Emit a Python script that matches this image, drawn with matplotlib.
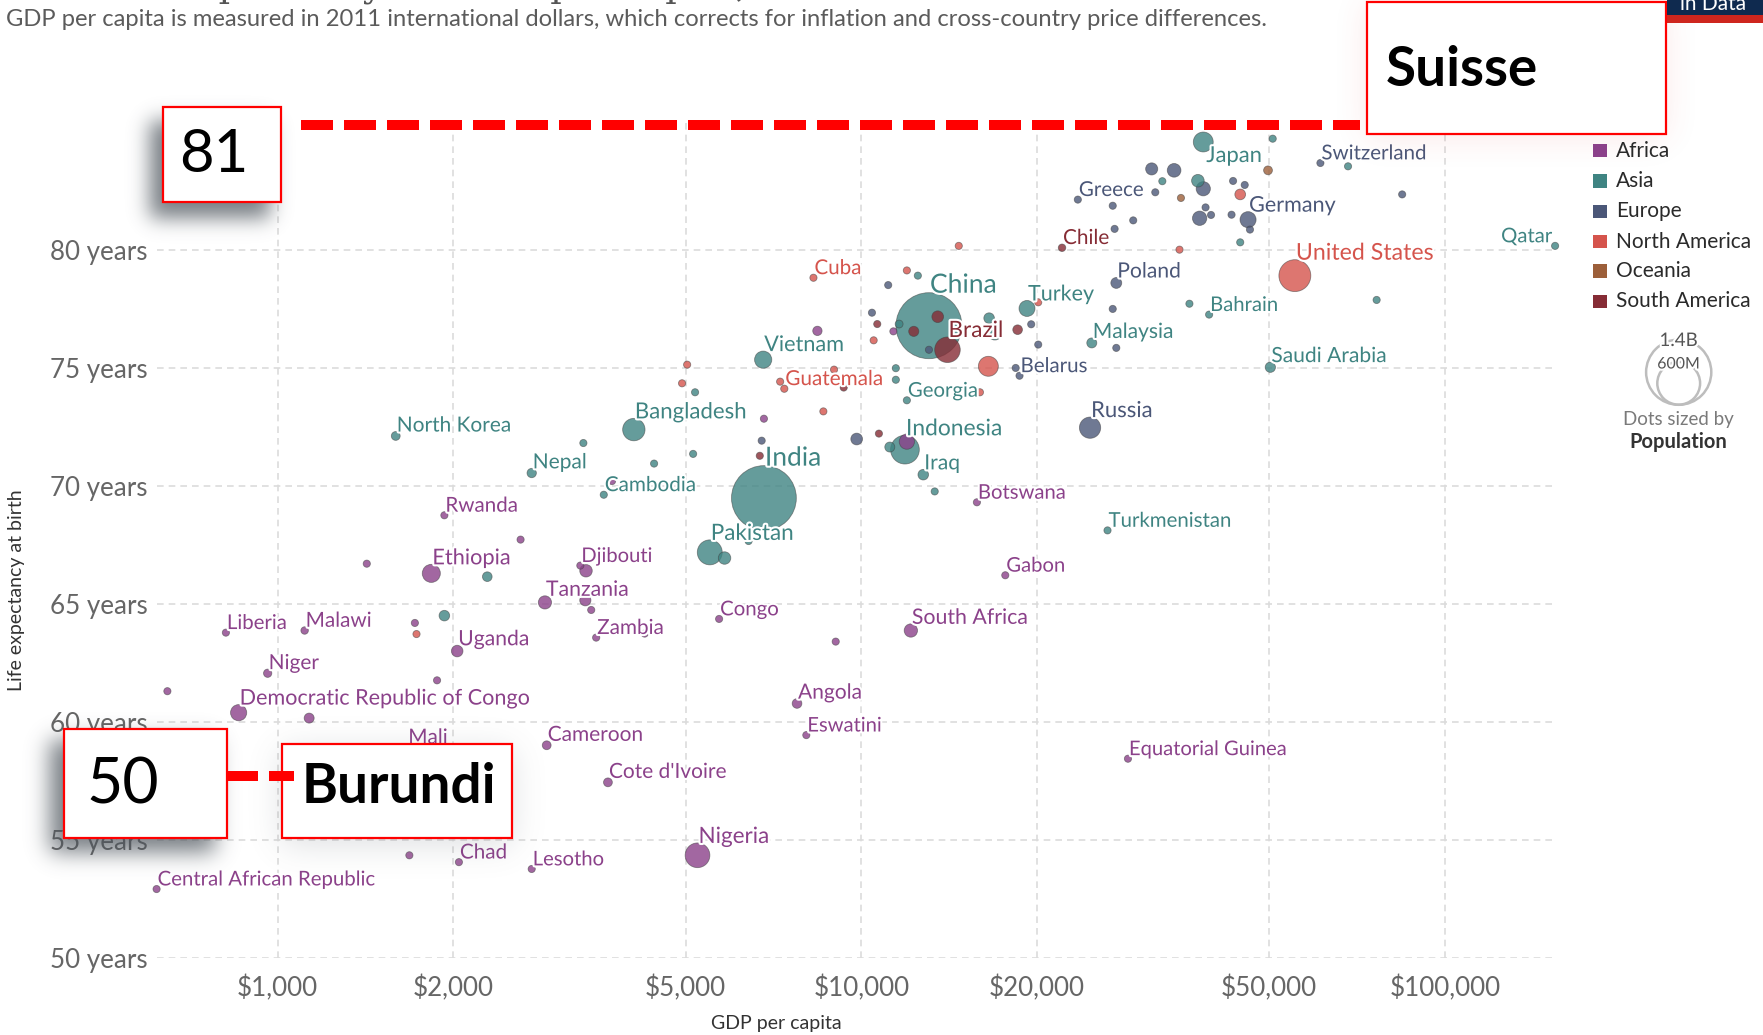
import math
import numpy as np
import matplotlib
matplotlib.use('Agg')
import matplotlib.pyplot as plt
from matplotlib.patches import Rectangle, Circle
from matplotlib.ticker import NullLocator
import matplotlib.patheffects as pe

plt.rcParams['font.family'] = ['Lato', 'DejaVu Sans']

W, H = 1763, 1035

# ---- data: GDP per capita (2011 int-$), life expectancy (years), population (millions)
af_name = ['Rwanda', '', '', 'Ethiopia', 'Djibouti', '', 'Tanzania', '', '', 'Zambia',
           '', 'Congo', '', 'Uganda', '', 'Liberia', 'Malawi', 'Niger',
           'Democratic Republic of Congo', '', '', 'Mali', 'Cameroon', "Cote d'Ivoire",
           'Chad', '', 'Lesotho', 'Central African Republic', 'Nigeria', 'South Africa',
           '', 'Angola', 'Eswatini', 'Gabon', 'Botswana', 'Equatorial Guinea',
           '', '', '', '', '']
af_gdp = [1930, 2607, 1421, 1833, 3300, 3375, 2870, 3366, 3445, 3513,
          4254, 5706, 1718, 2030, 1875, 815, 1112, 961,
          857, 647, 1132, 1667, 2890, 3680,
          2044, 1681, 2724, 620, 5240, 12160,
          9040, 7760, 8050, 17650, 15780, 28640,
          8410, 11350, 6810, 11970, 3740]
af_life = [68.75, 67.72, 66.7, 66.29, 66.62, 66.4, 65.06, 65.15, 64.74, 63.57,
           63.74, 64.36, 64.19, 63.0, 61.76, 63.78, 63.87, 62.06,
           60.39, 61.3, 60.16, 58.92, 59.01, 57.44,
           54.06, 54.35, 53.77, 52.92, 54.35, 63.87,
           63.4, 60.78, 59.44, 66.21, 69.3, 58.44,
           76.56, 76.54, 72.84, 71.87, 70.2]
af_pop = [12, 2, 16, 105, 1, 50, 56, 40, 5, 17,
          3, 5, 8, 43, 8, 5, 18, 22,
          84, 5, 32, 19, 25, 25,
          15, 8, 2, 5, 196, 57,
          3, 30, 1, 2, 2, 1,
          28, 11, 5, 75, 1]

as_name = ['North Korea', 'Nepal', 'Bangladesh', 'Cambodia', 'India', 'Pakistan', '', '',
           'Vietnam', '', '', '', '', 'China', 'Indonesia', '', 'Iraq', '', 'Georgia',
           '', '', '', '', '', '', 'Turkey', 'Malaysia', 'Turkmenistan', 'Bahrain', '',
           'Saudi Arabia', 'Qatar', '', 'Japan', '', '', '', '', '', '', '']
as_gdp = [1593, 2724, 4076, 3620, 6810, 5500, 5830, 6410,
          6790, 5190, 3340, 4415, 5150, 13060, 11880, 11190, 12770, 13360, 11970,
          11460, 11460, 12500, 11610, 16560, 16940, 19230, 24830, 26420, 39450, 36500,
          50230, 154500, 76400, 38550, 50700, 32800, 37740, 68250, 44600, 2286, 1930]
as_life = [72.11, 70.54, 72.38, 69.62, 69.48, 67.18, 66.94, 67.66,
           75.34, 73.96, 71.81, 70.94, 71.35, 76.78, 71.53, 71.64, 70.47, 69.76, 73.62,
           74.98, 74.49, 78.9, 76.85, 77.1, 76.47, 77.51, 76.05, 68.11, 77.25, 77.71,
           75.02, 80.16, 77.87, 84.56, 84.7, 82.9, 82.92, 83.53, 80.31, 66.15, 64.5]
as_pop = [25, 28, 161, 16, 1350, 200, 50, 5,
          95, 5, 5, 6, 6, 1400, 265, 32, 36, 5, 4,
          5, 5, 5, 20, 36, 63, 82, 32, 6, 2, 4,
          34, 3, 4, 127, 7, 5, 51, 6, 9, 30, 36]

eu_name = ['Greece', 'Germany', 'Switzerland', 'Poland', 'Belarus', 'Russia'] + [''] * 25
eu_gdp = [23500, 46000, 61200, 27350, 18670, 24660, 31450, 34360, 38550, 31900,
          26970, 43360, 45400, 84500, 46350, 38000, 39750, 38900, 43100, 29240,
          27170, 26970, 10430, 11120, 19550, 20100, 27350, 13060, 18390, 9820, 6750]
eu_life = [82.12, 81.27, 83.67, 78.59, 74.66, 72.46, 83.42, 83.36, 82.58, 82.43,
           81.86, 82.91, 82.74, 82.34, 80.85, 81.33, 81.47, 81.79, 81.48, 81.24,
           80.88, 77.49, 77.33, 78.5, 76.84, 75.98, 75.84, 75.76, 74.99, 71.98, 71.91]
eu_pop = [10, 83, 9, 38, 9, 145, 47, 60, 65, 5,
          10, 10, 5, 5, 5, 66, 9, 9, 11, 10,
          5, 5, 5, 5, 7, 7, 10, 7, 7, 44, 3]

na_name = ['Cuba', 'Guatemala', 'United States'] + [''] * 14
na_gdp = [8280, 7380, 55330, 14690, 11970, 10500, 16510, 8610, 5030, 4930,
          7260, 8980, 44600, 35100, 1729, 15970, 20100]
na_life = [78.81, 74.11, 78.9, 80.16, 79.12, 76.16, 75.06, 73.15, 75.13, 74.34,
           74.41, 74.92, 82.34, 80.0, 63.72, 73.96, 77.77]
na_pop = [11, 17, 327, 5, 4, 5, 128, 5, 5, 5, 5, 5, 37, 5, 11, 5, 3]

oc_name = ['', '']
oc_gdp = [35300, 49770]
oc_life = [82.19, 83.36]
oc_pop = [5, 25]

sa_name = ['Chile', 'Brazil'] + [''] * 7
sa_gdp = [22080, 14050, 13520, 12300, 10650, 18530, 10720, 9330, 6700]
sa_life = [80.08, 75.76, 77.16, 76.54, 76.85, 76.61, 72.21, 74.16, 71.27]
sa_pop = [18, 210, 44, 33, 11, 30, 5, 6, 11]

regions = ['Africa', 'Asia', 'Europe', 'North America', 'Oceania', 'South America']
x_ticks = [1000, 2000, 5000, 10000, 20000, 50000, 100000]
x_tick_labels = ['$1,000', '$2,000', '$5,000', '$10,000', '$20,000', '$50,000', '$100,000']
y_ticks = [50, 55, 60, 65, 70, 75, 80]
y_tick_labels = ['%d years' % v for v in y_ticks]

data = {
    'Africa': (af_name, af_gdp, af_life, af_pop),
    'Asia': (as_name, as_gdp, as_life, as_pop),
    'Europe': (eu_name, eu_gdp, eu_life, eu_pop),
    'North America': (na_name, na_gdp, na_life, na_pop),
    'Oceania': (oc_name, oc_gdp, oc_life, oc_pop),
    'South America': (sa_name, sa_gdp, sa_life, sa_pop),
}

colors = {'Africa': '#8b418a', 'Asia': '#3f8482', 'Europe': '#4b5778',
          'North America': '#d5544c', 'Oceania': '#9c5f3a', 'South America': '#862c35'}
label_side = {'Japan': 'below', 'Qatar': 'left'}


def radius_px(p):
    return max(3.6, 33 * math.sqrt(p / 1400.0))


def label_pt(p):
    return (20 + 6.5 * math.sqrt(p / 1400.0)) * 0.72


fig = plt.figure(figsize=(W / 100, H / 100), dpi=100)
ax = fig.add_axes([157.4 / W, 1 - 958 / H, (1555.1 - 157.4) / W, (958 - 119.8) / H])
ax.set_xscale('log')
ax.set_xlim(622, 154500)
ax.set_ylim(50, 85.5)
ax.set_xticks(x_ticks)
ax.set_xticklabels(x_tick_labels)
ax.xaxis.set_minor_locator(NullLocator())
ax.set_yticks(y_ticks)
ax.set_yticklabels(y_tick_labels)
ax.tick_params(length=0, labelsize=18.7, labelcolor='#666666')
ax.tick_params(axis='y', pad=7)
ax.tick_params(axis='x', pad=12)
ax.grid(True, color='#dcdcdc', linestyle=(0, (4, 3)), linewidth=1.2)
ax.set_axisbelow(True)
for s in ax.spines.values():
    s.set_visible(False)

# all dots, big ones first so small ones stay visible
pts = []
for reg in regions:
    nm, g, l, p = data[reg]
    for i in range(len(g)):
        pts.append((p[i], g[i], l[i], reg, nm[i]))
pts.sort(key=lambda t: -t[0])

xs = [t[1] for t in pts]
ys = [t[2] for t in pts]
sz = [(2 * radius_px(t[0]) * 0.72) ** 2 for t in pts]
fc = [matplotlib.colors.to_rgba(colors[t[3]], 0.8) for t in pts]
ax.scatter(xs, ys, s=sz, c=fc, edgecolors=(0.25, 0.25, 0.25, 0.55),
           linewidths=0.6, zorder=3, clip_on=False)

halo = [pe.withStroke(linewidth=3, foreground='white')]
for p, g, l, reg, nm in pts:
    if not nm:
        continue
    r = radius_px(p)
    side = label_side.get(nm, 'above')
    if side == 'left':
        off, ha, va = (-3, r), 'right', 'baseline'
    elif side == 'below':
        off, ha, va = (3, -4), 'left', 'top'
    else:
        off, ha, va = (1, r), 'left', 'baseline'
    ax.annotate(nm, (g, l), xytext=off, textcoords='offset pixels', ha=ha, va=va,
                fontsize=label_pt(p), color=colors[reg], zorder=5,
                path_effects=halo, annotation_clip=False)

# ---- overlay in pixel coordinates
ov = fig.add_axes([0, 0, 1, 1], zorder=10)
ov.axis('off')


def erf_arr(a):
    return np.vectorize(math.erf)(a)


def shadow(x0, y0, x1, y1, sigma, alpha, color):
    pad = int(3 * sigma)
    gx = np.arange(int(x0) - pad, int(x1) + pad) + 0.5
    gy = np.arange(int(y0) - pad, int(y1) + pad) + 0.5
    k = sigma * math.sqrt(2)
    fx = 0.5 * (erf_arr((gx - x0) / k) - erf_arr((gx - x1) / k))
    fy = 0.5 * (erf_arr((gy - y0) / k) - erf_arr((gy - y1) / k))
    m = np.outer(fy, fx)
    rgba = np.zeros(m.shape + (4,))
    rgba[..., :3] = matplotlib.colors.to_rgb(color)
    rgba[..., 3] = m * alpha
    ov.imshow(rgba, extent=(gx[0] - 0.5, gx[-1] + 0.5, gy[-1] + 0.5, gy[0] - 0.5),
              origin='upper', aspect='auto', interpolation='bilinear', zorder=1)


shadow(150, 121, 270, 218, 10, 0.75, '#4a525a')
shadow(50, 740, 215, 852, 11, 0.75, '#4a525a')
shadow(282, 750, 512, 845, 16, 0.22, '#6a7078')
shadow(1366, 2, 1666, 138, 16, 0.12, '#e04040')


def note_box(x0, y0, x1, y1):
    ov.add_patch(Rectangle((x0, y0), x1 - x0, y1 - y0, facecolor='white',
                           edgecolor='#ff0000', linewidth=1.6, zorder=3))


note_box(162.6, 107.3, 281.3, 202.3)
note_box(1366.5, 2.2, 1665.5, 133.8)
note_box(64.1, 728.6, 227.1, 837.7)
note_box(282.2, 744.4, 511.6, 837.7)

ov.plot([301, 1360], [124.8, 124.8], color='#ff0000', linewidth=7.2,
        linestyle=(0, (3.2, 1.1)), solid_capstyle='butt', zorder=3.5)
ov.plot([226, 294], [775.8, 775.8], color='#ff0000', linewidth=7.2,
        linestyle=(0, (3.2, 1.1)), solid_capstyle='butt', zorder=3.5)

ov.text(213.5, 155.5, '81', fontsize=43, ha='center', va='center', color='black', zorder=4)
ov.text(122.5, 785, '50', fontsize=45, ha='center', va='center', color='black', zorder=4)
ov.text(399, 787, 'Burundi', fontsize=39.4, fontweight='bold', ha='center', va='center',
        color='black', zorder=4)
ov.text(1462, 70, 'Suisse', fontsize=39.4, fontweight='bold', ha='center', va='center',
        color='black', zorder=4)

# title (mostly cut off, as in the source screenshot) and subtitle
ov.text(95, -4, 'Life expectancy vs. GDP per capita, 2018', fontsize=26,
        family=['DejaVu Serif'], color='#555555', va='baseline', ha='left')
ov.text(6, 20, 'GDP per capita is measured in 2011 international dollars, which corrects '
        'for inflation and cross-country price differences.',
        fontsize=17.1, color='#5b5b5b', va='center', ha='left')

# Our World in Data badge corner
ov.add_patch(Rectangle((1667, -2), 100, 16.5, facecolor='#0f2a4f', edgecolor='none', zorder=3))
ov.add_patch(Rectangle((1667, 14.5), 100, 8, facecolor='#ce261e', edgecolor='none', zorder=3))
ov.text(1680, 10, 'in Data', fontsize=15, color='white', va='baseline', zorder=4)

# axis titles
ov.text(17, 590, 'Life expectancy at birth', rotation=90, fontsize=14, color='#333333',
        ha='center', va='center')
ov.text(776, 1023, 'GDP per capita', fontsize=14, color='#333333', ha='center', va='center')

# colour legend
leg_y = [150.6, 181, 211.3, 241.7, 270.9, 301.3]
for reg, yy in zip(regions, leg_y):
    ov.add_patch(Rectangle((1593, yy - 6.8), 13.5, 13.5, facecolor=colors[reg],
                           edgecolor='none', zorder=3))
    ov.text(1615.8, yy, reg, fontsize=15, color='#2a2a2a', va='center', ha='left')

# size legend
cx = 1678.7
ov.add_patch(Circle((cx, 372.2), 32.6, fill=False, edgecolor='#bdbdbd', linewidth=1.8))
ov.add_patch(Circle((cx, 383.3), 21.4, fill=False, edgecolor='#bdbdbd', linewidth=1.8))
ov.text(cx, 340.5, '1.4B', fontsize=13.5, color='#555555', ha='center', va='center',
        path_effects=[pe.withStroke(linewidth=3, foreground='white')])
ov.text(cx, 364.5, '600M', fontsize=11.5, color='#555555', ha='center', va='center',
        path_effects=[pe.withStroke(linewidth=3, foreground='white')])
ov.text(cx, 419.5, 'Dots sized by', fontsize=13.5, color='#7a7a7a', ha='center', va='center')
ov.text(cx, 442, 'Population', fontsize=14.5, fontweight='bold', color='#333333',
        ha='center', va='center')

ov.set_xlim(0, W)
ov.set_ylim(H, 0)

fig.savefig('out.png', dpi=100)
